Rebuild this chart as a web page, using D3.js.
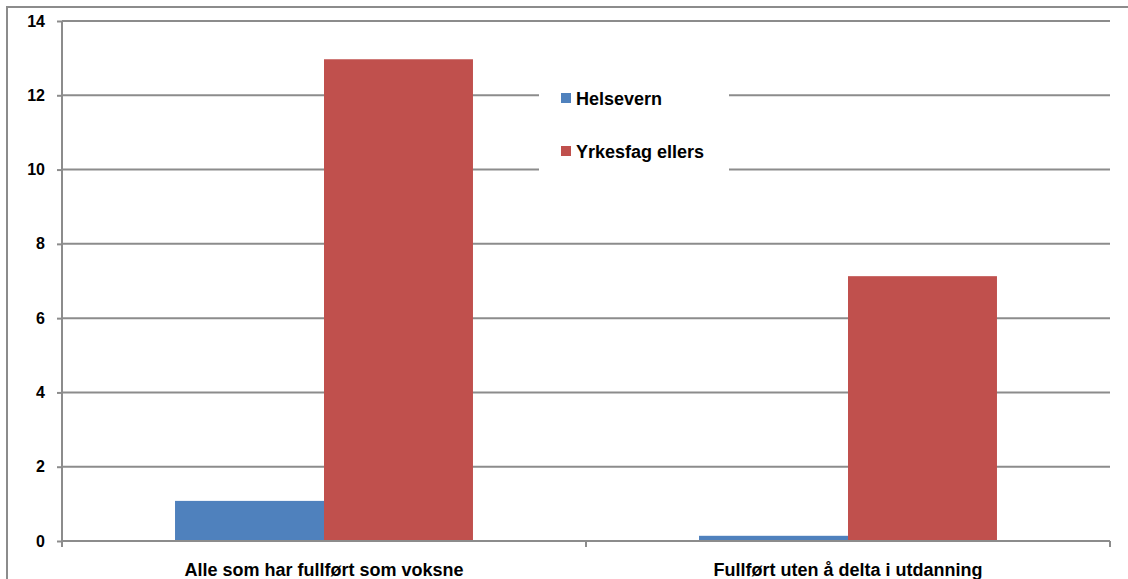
<!DOCTYPE html>
<html>
<head>
<meta charset="utf-8">
<script src="https://cdn.jsdelivr.net/npm/d3@7"></script>
<style>
  body { margin: 0; background: #fff; }
  svg text { font-family: "Liberation Sans", Arial, sans-serif; font-weight: bold; fill: #000; }
</style>
</head>
<body>
<svg id="chart" width="1128" height="579"></svg>
<script>
// categories and series
var categories = ['Alle som har fullført som voksne', 'Fullført uten å delta i utdanning'];
var seriesNames = ['Helsevern', 'Yrkesfag ellers'];
var helsevern = [1.08, 0.14];
var yrkesfag = [12.97, 7.13];
var yTicks = [0, 2, 4, 6, 8, 10, 12, 14];
var colors = ['#4F81BD', '#C0504D'];

var svg = d3.select('svg#chart'),
    margin = {top: 21, right: 18, bottom: 38, left: 62},
    width = 1128 - margin.left - margin.right,
    height = 579 - margin.top - margin.bottom;

// outer frame (only top and left edges show)
svg.append('rect')
    .attr('x', 7).attr('y', 7)
    .attr('width', 1140).attr('height', 600)
    .attr('fill', 'none')
    .attr('stroke', '#8c8c8c')
    .attr('stroke-width', 2);

var g = svg.append('g').attr('transform', 'translate(' + margin.left + ',' + margin.top + ')');

var x0 = d3.scaleBand().domain(categories).range([0, width]).padding(0);
var x1 = d3.scaleBand().domain(seriesNames)
    .range([x0.bandwidth() * 0.2157, x0.bandwidth() * 0.7843]).padding(0);
var y = d3.scaleLinear().domain([0, 14]).range([height, 0]);

// gridlines
g.selectAll('.grid')
    .data(yTicks.filter(function(d) { return d > 0; }))
    .enter().append('line')
    .attr('x1', 0).attr('x2', width)
    .attr('y1', function(d) { return y(d); })
    .attr('y2', function(d) { return y(d); })
    .attr('stroke', '#8c8c8c')
    .attr('stroke-width', 2);

var data = categories.map(function(c, i) {
    return {cat: c, values: [helsevern[i], yrkesfag[i]]};
});

var grp = g.selectAll('.grp')
    .data(data)
    .enter().append('g')
    .attr('transform', function(d) { return 'translate(' + x0(d.cat) + ',0)'; });

grp.selectAll('rect')
    .data(function(d) { return d.values.map(function(v, j) { return {name: seriesNames[j], v: v, j: j}; }); })
    .enter().append('rect')
    .attr('x', function(d) { return x1(d.name); })
    .attr('width', x1.bandwidth())
    .attr('y', function(d) { return y(d.v); })
    .attr('height', function(d) { return height - y(d.v); })
    .attr('fill', function(d) { return colors[d.j]; });

// y axis
var yAxis = g.append('g')
    .call(d3.axisLeft(y).tickValues(yTicks).tickSize(5).tickPadding(12).tickFormat(d3.format('d')));
yAxis.select('.domain').attr('stroke', '#8c8c8c').attr('stroke-width', 2).attr('d', 'M0,0V' + height);
yAxis.selectAll('.tick line').attr('stroke', '#8c8c8c').attr('stroke-width', 2);
yAxis.selectAll('.tick text').attr('font-size', 16);

// x axis
var xAxis = g.append('g')
    .attr('transform', 'translate(0,' + height + ')');
xAxis.append('line')
    .attr('x1', 0).attr('x2', width)
    .attr('y1', 0).attr('y2', 0)
    .attr('stroke', '#8c8c8c').attr('stroke-width', 2);
xAxis.selectAll('.xtick')
    .data([0, width / 2, width])
    .enter().append('line')
    .attr('x1', function(d) { return d; }).attr('x2', function(d) { return d; })
    .attr('y1', 0).attr('y2', 6)
    .attr('stroke', '#8c8c8c').attr('stroke-width', 2);
xAxis.selectAll('.xlabel')
    .data(categories)
    .enter().append('text')
    .attr('x', function(d) { return x0(d) + x0.bandwidth() / 2; })
    .attr('y', 35)
    .attr('text-anchor', 'middle')
    .attr('font-size', 18)
    .text(function(d) { return d; });

// legend
var legend = svg.append('g').attr('transform', 'translate(539,72)');
legend.append('rect')
    .attr('width', 190).attr('height', 108)
    .attr('fill', '#fff');
var li = legend.selectAll('.li')
    .data(seriesNames)
    .enter().append('g')
    .attr('transform', function(d, i) { return 'translate(22,' + (21 + i * 53) + ')'; });
li.append('rect')
    .attr('width', 10).attr('height', 10)
    .attr('fill', function(d, i) { return colors[i]; });
li.append('text')
    .attr('x', 15).attr('y', 12)
    .attr('font-size', 18)
    .text(function(d) { return d; });
</script>
</body>
</html>
